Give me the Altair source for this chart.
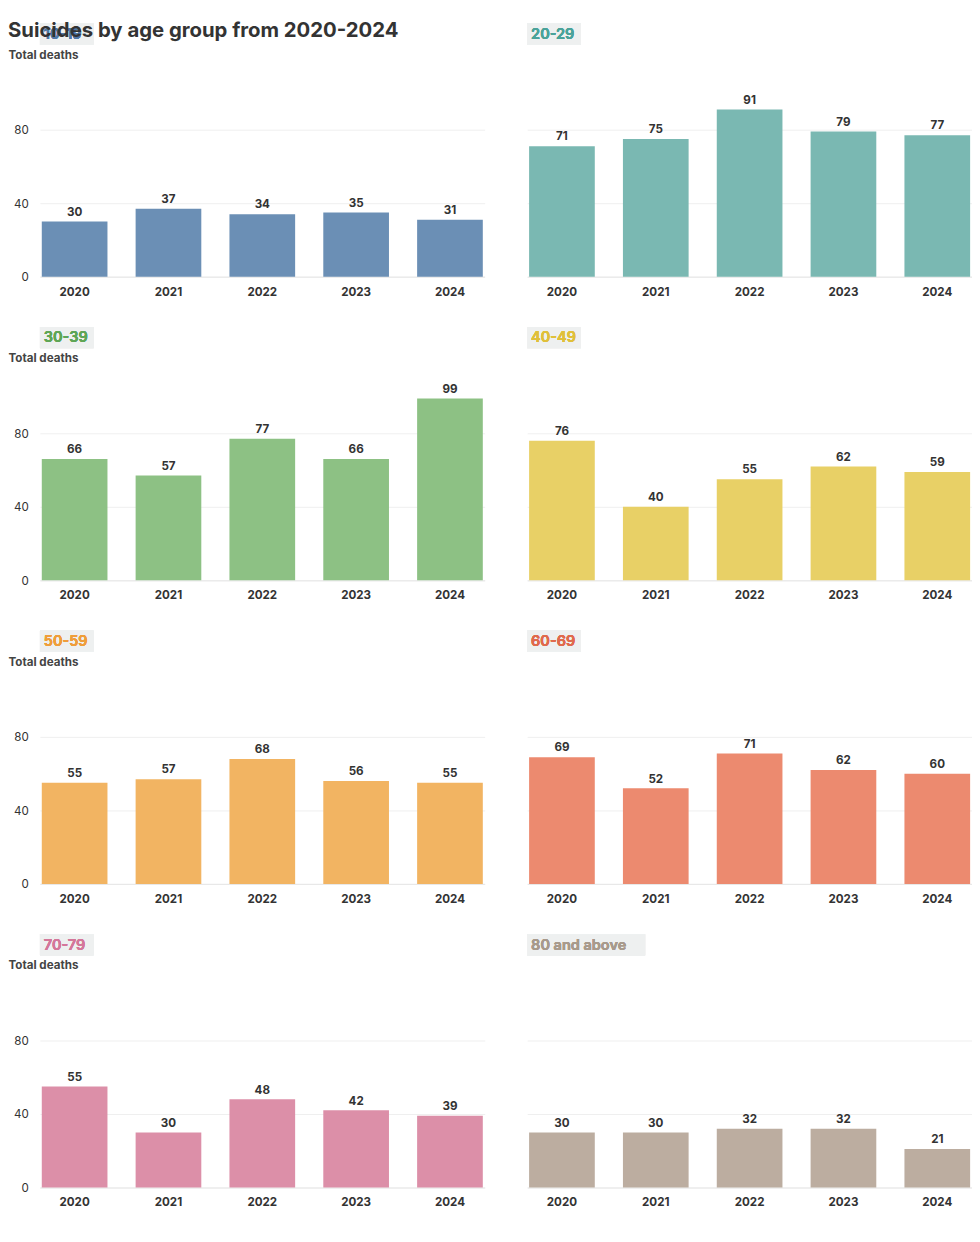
import altair as alt
import pandas as pd

years = ["2020", "2021", "2022", "2023", "2024"]
groups = ["10-19", "20-29", "30-39", "40-49", "50-59", "60-69", "70-79", "80 and above"]
values = [
    [30, 37, 34, 35, 31],
    [71, 75, 91, 79, 77],
    [66, 57, 77, 66, 99],
    [76, 40, 55, 62, 59],
    [55, 57, 68, 56, 55],
    [69, 52, 71, 62, 60],
    [55, 30, 48, 42, 39],
    [30, 30, 32, 32, 21],
]
bar_colors = ["#6b8fb5", "#7ab8b2", "#8dc184", "#e8d066", "#f2b462", "#ec8a6f", "#dc8fa8", "#bcada0"]
head_colors = ["#4f78a8", "#4aa39a", "#5fa656", "#e0c03a", "#ef9e3a", "#e06a4d", "#d4779a", "#a89a8c"]

FONT = "Inter"
W, H = 460, 190

def panel(i):
    df = pd.DataFrame({"year": years, "deaths": values[i]})
    left = i % 2 == 0
    base = alt.Chart(df)
    yaxis = alt.Axis(values=[0, 20, 40, 60, 80, 100], grid=True, gridColor="#eeeeee",
                     domain=False, ticks=False, labelPadding=12, labelFontSize=12,
                     labelOverlap=False, labelColor="#333", labelFont=FONT,
                     title="Total deaths" if left else None,
                     titleAngle=0, titleAlign="left", titleX=-33, titleY=-33,
                     titleFontSize=12, titleFontWeight="bold", titleColor="#444", titleFont=FONT,
                     labels=left)
    bars = base.mark_bar(color=bar_colors[i]).encode(
        x=alt.X("year:N", scale=alt.Scale(paddingInner=0.3, paddingOuter=0.02),
                axis=alt.Axis(title=None, labelAngle=0, domain=True, domainColor="#e6e6e6",
                              ticks=False, labelPadding=10, labelFontSize=12,
                              labelFontWeight="bold", labelColor="#333", labelFont=FONT)),
        y=alt.Y("deaths:Q", scale=alt.Scale(domain=[0, 100], nice=False), axis=yaxis),
    )
    labels = base.mark_text(dy=-10, fontSize=12, fontWeight="bold", color="#333", font=FONT).encode(
        x="year:N", y="deaths:Q", text="deaths:Q")
    tw = len(groups[i]) * 9.5 + 8
    box = base.mark_rect(color="#eef0f0").encode(
        x=alt.value(0), x2=alt.value(tw), y=alt.value(-72), y2=alt.value(-50))
    head = base.mark_text(align="left", baseline="middle", fontSize=15, fontWeight=600,
                          color=head_colors[i], font=FONT).encode(
        x=alt.value(4), y=alt.value(-61), text=alt.value(groups[i]))
    return alt.layer(bars, labels, box, head).properties(width=W, height=H)

rows = [alt.hconcat(panel(2 * r), panel(2 * r + 1), spacing=44) for r in range(4)]
chart = alt.vconcat(*rows, spacing=31).properties(
    title=alt.TitleParams("Suicides by age group from 2020-2024", anchor="start",
                          fontSize=21, font=FONT, fontWeight="bold", color="#333", offset=-18),
    padding={"left": 0, "top": -8, "right": 0, "bottom": 0},
).configure_view(strokeWidth=0)

chart.save("out.html", embed_options={"renderer": "svg", "actions": False})
